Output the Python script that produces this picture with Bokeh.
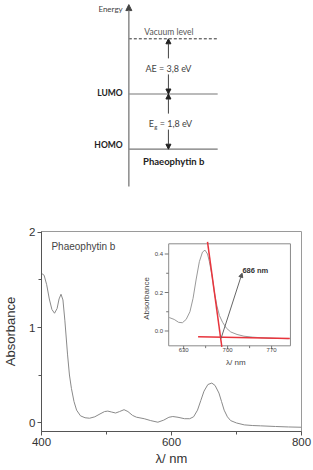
import math
from bokeh.plotting import figure
from bokeh.layouts import column
from bokeh.models import Range1d, FixedTicker, Arrow, NormalHead, Label
from bokeh.core.properties import value
from bokeh.embed import file_html
from bokeh.resources import INLINE

# ---------------- data: energy-level diagram (schematic) ----------------
level_names = ["Vacuum level", "LUMO", "HOMO"]
level_pos = [2, 1, 0]                    # schematic ordering of levels
affinity_text = "AE = 3,8 eV"
gap_symbol = "E"
gap_subscript = "g"
gap_text = "= 1,8 eV"
molecule = "Phaeophytin b"
energy_label = "Energy"

# ---------------- data: absorption spectrum ----------------
wavelength = [400, 404, 408, 412, 416, 420, 424, 427, 430, 433, 436, 440, 443, 446,
              450, 454, 460, 467, 474, 482, 490, 497, 502, 508, 514, 520, 527, 533,
              540, 546, 558, 568, 579, 588, 596, 602, 610, 620, 628, 634, 640, 645,
              650, 656, 662, 667, 673, 677, 681, 686, 691, 700, 712, 725, 737, 760,
              780, 800]
absorbance = [1.57, 1.55, 1.45, 1.30, 1.19, 1.15, 1.20, 1.30, 1.35, 1.29, 1.07, 0.72,
              0.50, 0.36, 0.22, 0.13, 0.07, 0.05, 0.045, 0.06, 0.09, 0.115, 0.12, 0.11,
              0.10, 0.115, 0.135, 0.115, 0.075, 0.056, 0.04, 0.02, 0.003, 0.025, 0.055,
              0.063, 0.055, 0.04, 0.04, 0.06, 0.13, 0.23, 0.33, 0.40, 0.415, 0.39, 0.31,
              0.22, 0.13, 0.06, 0.02, -0.005, -0.025, -0.032, -0.035, -0.042, -0.047,
              -0.05]
main_xticks = [400, 600, 800]
main_xminor = [500, 700]
main_yticks = [0, 1, 2]
main_yminor = [0.5, 1.5]

# ---------------- data: inset (band-edge) ----------------
inset_wl = [607, 615, 622, 628, 634, 640, 645, 650, 655, 660, 664, 668, 671, 675,
            679, 683, 687, 692, 698, 705, 715, 726, 740, 753, 775, 797]
inset_abs = [0.07, 0.06, 0.045, 0.043, 0.06, 0.10, 0.17, 0.27, 0.36, 0.41, 0.42, 0.40,
             0.36, 0.29, 0.20, 0.13, 0.08, 0.045, 0.015, -0.005, -0.018, -0.027,
             -0.032, -0.035, -0.038, -0.04]
tangent_x = [668, 690.8]
tangent_y = [0.463, -0.082]
baseline_x = [653, 799]
baseline_y = [-0.03, -0.039]
onset_label = "686 nm"
onset_point = (689.5, -0.039)
inset_xticks = [630, 700, 770]
inset_xminor = [665, 735]
inset_yticks = [0.0, 0.2, 0.4]
inset_yminor = [0.1, 0.3]

# ---------------- layout constants ----------------
DIAG_FONT = "Lato"
PLOT_FONT = "Liberation Sans"
inset_xlim = (606.2, 800.0)
inset_ylim = (-0.077, 0.453)
W = 313
H_TOP = 196
H_BOT = 274
BL, BR = 40, 12   # shared left/right borders (frames are aligned in the column)

# =============== top: energy diagram ===============
top = figure(width=W, height=H_TOP, x_range=Range1d(-0.993, 1.963),
             y_range=Range1d(-0.857, 2.694), output_backend="svg",
             toolbar_location=None, x_axis_location=None, y_axis_location=None,
             min_border_left=BL, min_border_right=BR, min_border_top=0,
             min_border_bottom=0)
top.grid.visible = False
top.outline_line_color = None

# energy axis with arrow
top.add_layout(Arrow(x_start=0, y_start=-0.676, x_end=0, y_end=2.62,
                     line_color="#8a8a8a", line_width=1.5,
                     end=NormalHead(size=6, fill_color="#444", line_color="#444")))
top.text(x=[-0.07], y=[2.545], text=[energy_label], text_align="right",
         text_baseline="middle", text_font=value(DIAG_FONT), text_font_size="8px",
         text_color="#444")

line_end = 1.01
top.segment(x0=[0], y0=[level_pos[0]], x1=[line_end], y1=[level_pos[0]],
            line_color="#333", line_width=1, line_dash="3 2")
top.segment(x0=[0, 0], y0=level_pos[1:], x1=[line_end, line_end], y1=level_pos[1:],
            line_color="#777", line_width=1.2)

top.text(x=[0.456], y=[level_pos[0] + 0.13], text=[level_names[0]], text_align="center",
         text_baseline="middle", text_font=value(DIAG_FONT), text_font_size="8.5px",
         text_color="#555")
top.text(x=[-0.07, -0.07], y=[level_pos[1] + 0.02, level_pos[2] + 0.085],
         text=level_names[1:], text_align="right", text_baseline="middle",
         text_font=value(DIAG_FONT), text_font_size="8.5px", text_font_style="bold",
         text_color="#222")
top.text(x=[0.51], y=[-0.223], text=[molecule], text_align="center",
         text_baseline="middle", text_font=value(DIAG_FONT), text_font_size="9.5px",
         text_font_style="bold", text_color="#222")

ax = 0.45
def darrow(y0, y1):
    top.add_layout(Arrow(x_start=ax, y_start=y0, x_end=ax, y_end=y1,
                         line_color="#444", line_width=1,
                         end=NormalHead(size=5, fill_color="#222", line_color="#222")))

mid_up = (level_pos[0] + level_pos[1]) / 2
mid_lo = (level_pos[1] + level_pos[2]) / 2
darrow(mid_up + 0.145, level_pos[0])
darrow(mid_up - 0.145, level_pos[1])
darrow(mid_lo + 0.145, level_pos[1])
darrow(mid_lo - 0.145, level_pos[2])

top.text(x=[ax], y=[mid_up - 0.04], text=[affinity_text], text_align="center",
         text_baseline="middle", text_font=value(DIAG_FONT), text_font_size="9px",
         text_color="#444")
gx = 0.226
top.text(x=[gx], y=[mid_lo - 0.04], text=[gap_symbol], text_align="left",
         text_baseline="middle", text_font=value(DIAG_FONT), text_font_size="9px",
         text_color="#444")
top.text(x=[gx], y=[mid_lo - 0.04], text=[gap_subscript], text_align="left",
         text_baseline="middle", x_offset=5.5, y_offset=3, text_font=value(DIAG_FONT),
         text_font_size="6px", text_color="#444")
top.text(x=[gx], y=[mid_lo - 0.04], text=[gap_text], text_align="left",
         text_baseline="middle", x_offset=11, text_font=value(DIAG_FONT),
         text_font_size="9px", text_color="#444")

# =============== bottom: spectrum ===============
p = figure(width=W, height=H_BOT, x_range=Range1d(400, 800),
           y_range=Range1d(-0.0947, 2.0105), output_backend="svg",
           toolbar_location=None, min_border_left=BL, min_border_right=BR,
           min_border_top=35, min_border_bottom=39,
           x_axis_label="λ/ nm", y_axis_label="Absorbance")
p.grid.visible = False
p.outline_line_color = "#9a9a9a"
p.xaxis.ticker = FixedTicker(ticks=main_xticks, minor_ticks=main_xminor)
p.yaxis.ticker = FixedTicker(ticks=main_yticks, minor_ticks=main_yminor)
for a in (p.xaxis, p.yaxis):
    a.axis_line_color = "#555"
    a.major_tick_line_color = "#555"
    a.minor_tick_line_color = "#555"
    a.major_tick_in = 0
    a.major_tick_out = 4
    a.minor_tick_in = 0
    a.minor_tick_out = 3
    a.major_label_standoff = 2
    a.major_label_text_font = PLOT_FONT
    a.major_label_text_font_size = "11.5px"
    a.major_label_text_color = "#333"
    a.axis_label_text_font = PLOT_FONT
    a.axis_label_text_font_size = "13px"
    a.axis_label_text_font_style = "normal"
    a.axis_label_text_color = "#333"
p.xaxis.axis_label_standoff = 2
p.yaxis.axis_label_standoff = 8

p.line(wavelength, absorbance, line_color="#8a8a8a", line_width=1)

p.add_layout(Label(x=415.3, y=1.853, text=molecule, text_font=PLOT_FONT,
                   text_font_size="10px", text_baseline="middle", text_color="#444"))

# ---- inset via extra ranges ----
p.extra_x_ranges = {"ix": Range1d(403.75, 817.6)}
p.extra_y_ranges = {"iy": Range1d(-0.5221, 0.5169)}
kw = dict(x_range_name="ix", y_range_name="iy")

p.quad(left=[inset_xlim[0]], right=[inset_xlim[1]], bottom=[inset_ylim[0]],
       top=[inset_ylim[1]], fill_color="white", line_color="#8a8a8a", line_width=1, **kw)
p.line(inset_wl, inset_abs, line_color="#9a9a9a", line_width=1, **kw)
p.line(tangent_x, tangent_y, line_color="#e8343c", line_width=1.5, **kw)
p.line(baseline_x, baseline_y, line_color="#e8343c", line_width=1.5, **kw)
p.add_layout(Arrow(x_start=onset_point[0], y_start=onset_point[1], x_end=723, y_end=0.30,
                   line_color="#666", line_width=1,
                   end=NormalHead(size=4, fill_color="#555", line_color="#555"), **kw))
p.text(x=[723.5], y=[0.313], text=[onset_label], text_align="left",
       text_baseline="middle", text_font=value(PLOT_FONT), text_font_size="7.5px",
       text_font_style="bold", text_color="#333", **kw)

# inset ticks
x0 = inset_xlim[0]
yb = inset_ylim[0]
p.segment(x0=[x0 - 6.3] * len(inset_yticks), y0=inset_yticks, x1=[x0] * len(inset_yticks),
          y1=inset_yticks, line_color="#777", line_width=1, **kw)
p.segment(x0=[x0 - 4] * len(inset_yminor), y0=inset_yminor, x1=[x0] * len(inset_yminor),
          y1=inset_yminor, line_color="#777", line_width=1, **kw)
p.segment(x0=inset_xticks, y0=[yb] * len(inset_xticks), x1=inset_xticks,
          y1=[yb - 0.018] * len(inset_xticks), line_color="#777", line_width=1, **kw)
p.segment(x0=inset_xminor, y0=[yb] * len(inset_xminor), x1=inset_xminor,
          y1=[yb - 0.012] * len(inset_xminor), line_color="#777", line_width=1, **kw)
p.text(x=[x0 - 9] * len(inset_yticks), y=inset_yticks,
       text=[f"{v:.1f}" for v in inset_yticks], text_align="right",
       text_baseline="middle", text_font=value(PLOT_FONT), text_font_size="6px",
       text_color="#444", **kw)
p.text(x=inset_xticks, y=[-0.101] * len(inset_xticks),
       text=[str(v) for v in inset_xticks], text_align="center",
       text_baseline="middle", text_font=value(PLOT_FONT), text_font_size="6px",
       text_color="#444", **kw)
p.text(x=[570.2], y=[0.169], text=["Absorbance"], angle=math.pi / 2,
       text_align="center", text_baseline="middle", text_font=value(PLOT_FONT),
       text_font_size="8px", text_color="#444", **kw)
p.text(x=[713], y=[-0.165], text=["λ/ nm"], text_align="center",
       text_baseline="middle", text_font=value(PLOT_FONT), text_font_size="8px",
       text_color="#444", **kw)

layout = column(top, p, spacing=0)
open("out.html", "w").write(file_html(layout, INLINE))
